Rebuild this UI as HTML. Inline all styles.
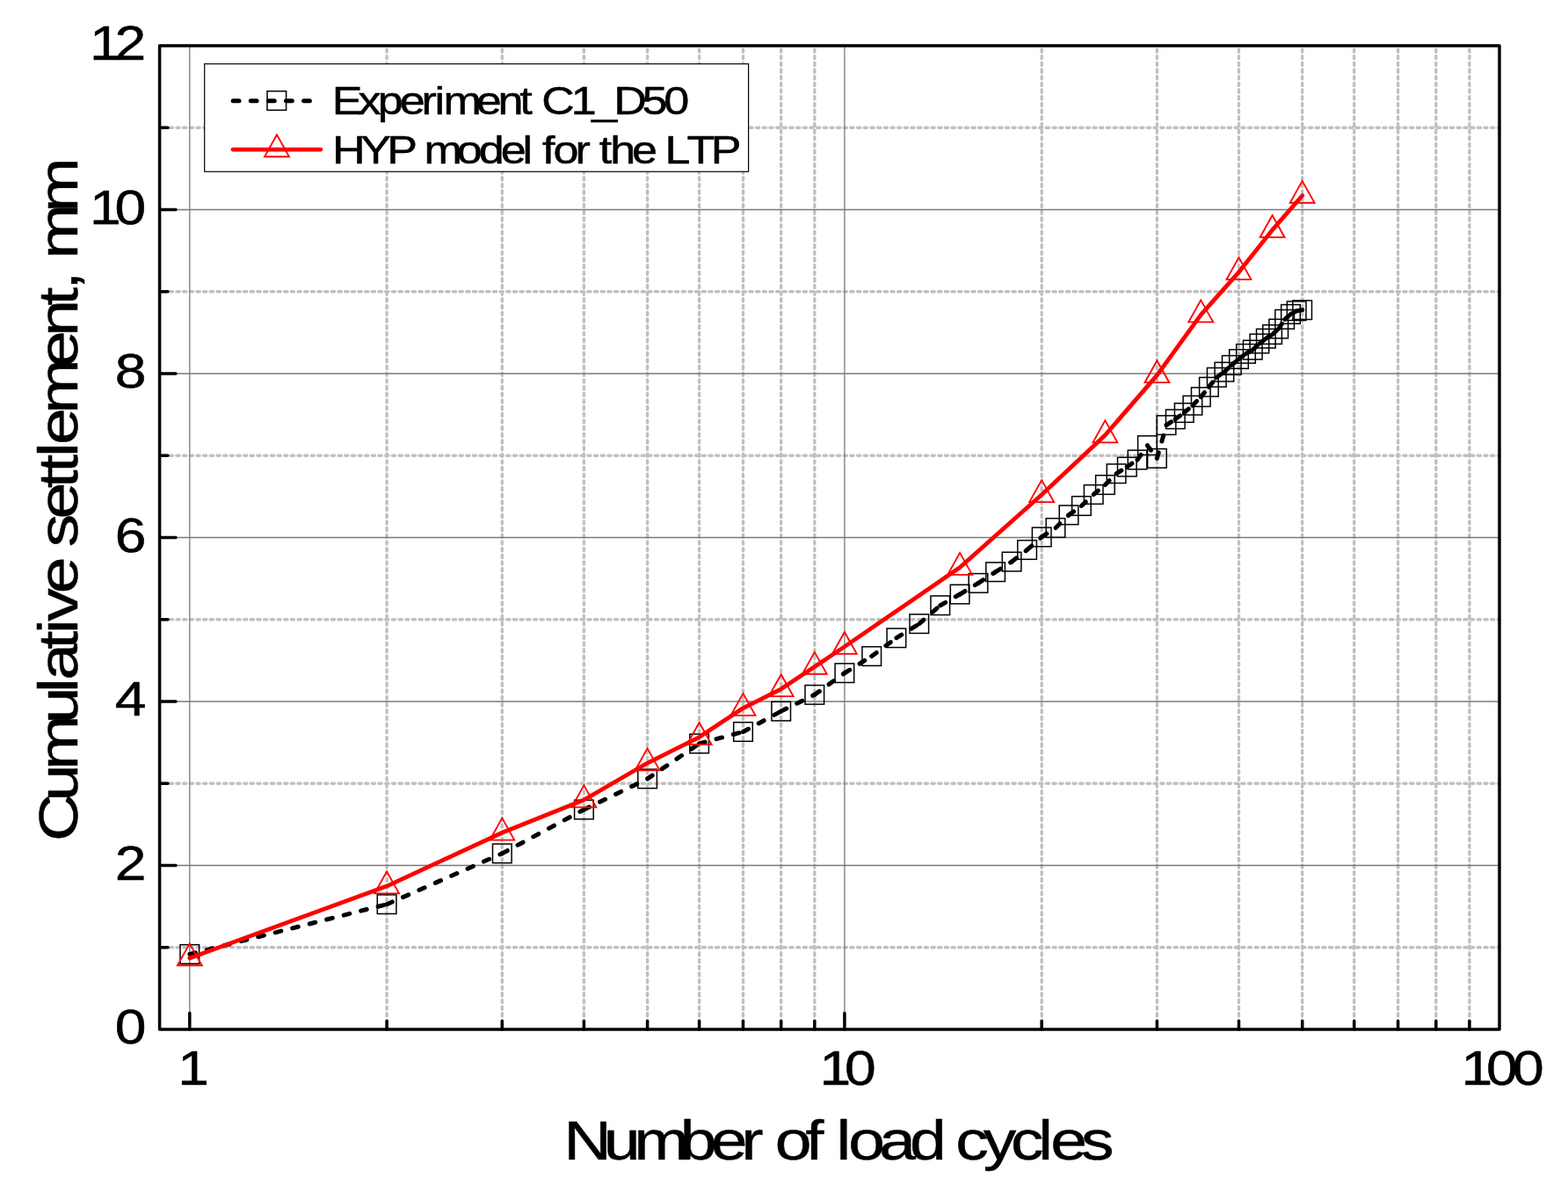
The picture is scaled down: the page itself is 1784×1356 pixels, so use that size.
<!DOCTYPE html>
<html lang="en"><head><meta charset="utf-8"><title>Cumulative settlement vs number of load cycles</title>
<style>html,body{margin:0;padding:0;background:#fff;overflow:hidden}svg{display:block}text{font-family:"Liberation Sans",sans-serif;white-space:pre;stroke:#000;stroke-width:0.5px;stroke-linejoin:round}</style></head><body>
<svg width="1784" height="1356" viewBox="0 0 1784 1356" role="img" aria-label="Cumulative settlement versus number of load cycles">
<rect x="0" y="0" width="1784" height="1356" fill="#fff"/>
<g fill="none" stroke="#c0c0c0" stroke-width="3.4" stroke-linecap="round" stroke-dasharray="3.2 4.47">
<path d="M440.1 56 V1171"/>
<path d="M571.3 56 V1171"/>
<path d="M664.39 56 V1171"/>
<path d="M736.6 56 V1171"/>
<path d="M795.6 56 V1171"/>
<path d="M845.48 56 V1171"/>
<path d="M888.69 56 V1171"/>
<path d="M926.81 56 V1171"/>
<path d="M1185.2 56 V1171"/>
<path d="M1316.4 56 V1171"/>
<path d="M1409.49 56 V1171"/>
<path d="M1481.7 56 V1171"/>
<path d="M1540.7 56 V1171"/>
<path d="M1590.58 56 V1171"/>
<path d="M1633.79 56 V1171"/>
<path d="M1671.91 56 V1171"/>
<path d="M185.6 1077.75 H1706"/>
<path d="M185.6 891.25 H1706"/>
<path d="M185.6 704.75 H1706"/>
<path d="M185.6 518.25 H1706"/>
<path d="M185.6 331.75 H1706"/>
<path d="M185.6 145.25 H1706"/>
</g>
<g fill="none" stroke="#7a7a7a" stroke-width="1.3">
<path d="M215.8 52 V1171"/>
<path d="M960.9 52 V1171"/>
<path d="M181.6 984.5 H1706"/>
<path d="M181.6 798 H1706"/>
<path d="M181.6 611.5 H1706"/>
<path d="M181.6 425 H1706"/>
<path d="M181.6 238.5 H1706"/>
</g>
<g fill="none" stroke="#000" stroke-width="3.5" stroke-linecap="round" stroke-linejoin="round">
<rect x="181.6" y="52" width="1524.4" height="1119"/>
<path d="M215.8 1171 V1152.6 M960.9 1171 V1152.6 M440.1 1171 V1161.6 M571.3 1171 V1161.6 M664.39 1171 V1161.6 M736.6 1171 V1161.6 M795.6 1171 V1161.6 M845.48 1171 V1161.6 M888.69 1171 V1161.6 M926.81 1171 V1161.6 M1185.2 1171 V1161.6 M1316.4 1171 V1161.6 M1409.49 1171 V1161.6 M1481.7 1171 V1161.6 M1540.7 1171 V1161.6 M1590.58 1171 V1161.6 M1633.79 1171 V1161.6 M1671.91 1171 V1161.6 M181.6 984.5 H200 M181.6 798 H200 M181.6 611.5 H200 M181.6 425 H200 M181.6 238.5 H200 M181.6 1077.75 H191 M181.6 891.25 H191 M181.6 704.75 H191 M181.6 518.25 H191 M181.6 331.75 H191 M181.6 145.25 H191"/>
</g>
<g fill="none" stroke="#000" stroke-width="5" stroke-linecap="round" stroke-dasharray="6.8 13.3">
<path d="M215.8 1085.49 L440.1 1028.7"/>
<path d="M440.1 1028.7 L571.3 970.89"/>
<path d="M571.3 970.89 L664.39 921"/>
<path d="M664.39 921 L736.6 885.93"/>
<path d="M736.6 885.93 L795.6 845.93"/>
<path d="M795.6 845.93 L845.48 832.5"/>
<path d="M845.48 832.5 L888.69 809.1"/>
<path d="M888.69 809.1 L926.81 790.35"/>
<path d="M926.81 790.35 L960.9 765.64"/>
<path d="M960.9 765.64 L991.74 746.53"/>
<path d="M991.74 746.53 L1019.9 725.73"/>
<path d="M1019.9 725.73 L1045.8 709.6"/>
<path d="M1045.8 709.6 L1069.78 688.71"/>
<path d="M1069.78 688.71 L1092.11 676.03"/>
<path d="M1092.11 676.03 L1112.99 663.35"/>
<path d="M1112.99 663.35 L1132.61 650.66"/>
<path d="M1132.61 650.66 L1151.1 639.01"/>
<path d="M1151.1 639.01 L1168.6 625.49"/>
<path d="M1168.6 625.49 L1185.2 610.94"/>
<path d="M1185.2 610.94 L1200.99 600.5"/>
<path d="M1200.99 600.5 L1216.04 585.86"/>
<path d="M1216.04 585.86 L1230.42 575.51"/>
<path d="M1230.42 575.51 L1244.2 562.54"/>
<path d="M1244.2 562.54 L1257.41 551.54"/>
<path d="M1257.41 551.54 L1270.1 538.76"/>
<path d="M1270.1 538.76 L1282.31 531.12"/>
<path d="M1282.31 531.12 L1294.08 523.01"/>
<path d="M1294.08 523.01 L1305.43 506.69"/>
<path d="M1305.43 506.69 L1316.4 521.42"/>
<path d="M1316.4 521.42 L1327.01 483.65"/>
<path d="M1327.01 483.65 L1337.29 476.85"/>
<path d="M1337.29 476.85 L1347.24 469.57"/>
<path d="M1347.24 469.57 L1356.9 461.18"/>
<path d="M1356.9 461.18 L1366.29 451.67"/>
<path d="M1366.29 451.67 L1375.4 440.2"/>
<path d="M1375.4 440.2 L1384.27 429.29"/>
<path d="M1384.27 429.29 L1392.9 423.13"/>
<path d="M1392.9 423.13 L1401.3 415.4"/>
<path d="M1401.3 415.4 L1409.49 408.49"/>
<path d="M1409.49 408.49 L1417.49 402.34"/>
<path d="M1417.49 402.34 L1425.28 398.05"/>
<path d="M1425.28 398.05 L1432.9 390.87"/>
<path d="M1432.9 390.87 L1440.34 385.09"/>
<path d="M1440.34 385.09 L1447.61 380.52"/>
<path d="M1447.61 380.52 L1454.72 373.99"/>
<path d="M1454.72 373.99 L1461.68 363.27"/>
<path d="M1461.68 363.27 L1468.49 357.39"/>
<path d="M1468.49 357.39 L1475.17 353.66"/>
<path d="M1475.17 353.66 L1481.7 352.64"/>
</g>
<g fill="none" stroke="#000" stroke-width="1.5">
<rect x="205" y="1074.69" width="21.6" height="21.6"/>
<rect x="429.3" y="1017.9" width="21.6" height="21.6"/>
<rect x="560.5" y="960.09" width="21.6" height="21.6"/>
<rect x="653.59" y="910.2" width="21.6" height="21.6"/>
<rect x="725.8" y="875.13" width="21.6" height="21.6"/>
<rect x="784.8" y="835.13" width="21.6" height="21.6"/>
<rect x="834.68" y="821.7" width="21.6" height="21.6"/>
<rect x="877.89" y="798.3" width="21.6" height="21.6"/>
<rect x="916.01" y="779.55" width="21.6" height="21.6"/>
<rect x="950.1" y="754.84" width="21.6" height="21.6"/>
<rect x="980.94" y="735.73" width="21.6" height="21.6"/>
<rect x="1009.1" y="714.93" width="21.6" height="21.6"/>
<rect x="1035" y="698.8" width="21.6" height="21.6"/>
<rect x="1058.98" y="677.91" width="21.6" height="21.6"/>
<rect x="1081.31" y="665.23" width="21.6" height="21.6"/>
<rect x="1102.19" y="652.55" width="21.6" height="21.6"/>
<rect x="1121.81" y="639.87" width="21.6" height="21.6"/>
<rect x="1140.3" y="628.21" width="21.6" height="21.6"/>
<rect x="1157.8" y="614.69" width="21.6" height="21.6"/>
<rect x="1174.4" y="600.14" width="21.6" height="21.6"/>
<rect x="1190.19" y="589.7" width="21.6" height="21.6"/>
<rect x="1205.24" y="575.06" width="21.6" height="21.6"/>
<rect x="1219.62" y="564.71" width="21.6" height="21.6"/>
<rect x="1233.4" y="551.74" width="21.6" height="21.6"/>
<rect x="1246.61" y="540.74" width="21.6" height="21.6"/>
<rect x="1259.3" y="527.97" width="21.6" height="21.6"/>
<rect x="1271.51" y="520.32" width="21.6" height="21.6"/>
<rect x="1283.28" y="512.21" width="21.6" height="21.6"/>
<rect x="1294.63" y="495.89" width="21.6" height="21.6"/>
<rect x="1305.6" y="510.62" width="21.6" height="21.6"/>
<rect x="1316.21" y="472.85" width="21.6" height="21.6"/>
<rect x="1326.49" y="466.05" width="21.6" height="21.6"/>
<rect x="1336.44" y="458.77" width="21.6" height="21.6"/>
<rect x="1346.1" y="450.38" width="21.6" height="21.6"/>
<rect x="1355.49" y="440.87" width="21.6" height="21.6"/>
<rect x="1364.6" y="429.4" width="21.6" height="21.6"/>
<rect x="1373.47" y="418.49" width="21.6" height="21.6"/>
<rect x="1382.1" y="412.33" width="21.6" height="21.6"/>
<rect x="1390.5" y="404.6" width="21.6" height="21.6"/>
<rect x="1398.69" y="397.69" width="21.6" height="21.6"/>
<rect x="1406.69" y="391.54" width="21.6" height="21.6"/>
<rect x="1414.48" y="387.25" width="21.6" height="21.6"/>
<rect x="1422.1" y="380.07" width="21.6" height="21.6"/>
<rect x="1429.54" y="374.29" width="21.6" height="21.6"/>
<rect x="1436.81" y="369.72" width="21.6" height="21.6"/>
<rect x="1443.92" y="363.19" width="21.6" height="21.6"/>
<rect x="1450.88" y="352.47" width="21.6" height="21.6"/>
<rect x="1457.69" y="346.59" width="21.6" height="21.6"/>
<rect x="1464.37" y="342.86" width="21.6" height="21.6"/>
<rect x="1470.9" y="341.84" width="21.6" height="21.6"/>
</g>
<path fill="none" stroke="#ff0000" stroke-width="4.8" stroke-linecap="round" stroke-linejoin="round" d="M215.8 1089.97 L440.1 1008.09 L571.3 947.29 L664.39 909.99 L736.6 868.03 L795.6 838.56 L845.48 805.55 L888.69 783.83 L926.81 758.46 L960.9 735.62 L1092.11 645.54 L1185.2 562.73 L1257.41 495.03 L1316.4 426.87 L1366.29 358.05 L1409.49 309.56 L1447.61 261.63 L1481.7 222.46"/>
<path fill="none" stroke="#ff0000" stroke-width="1.85" stroke-linejoin="miter" d="M215.8 1073.33 L229.75 1098.28 L201.85 1098.28 Z M440.1 991.46 L454.05 1016.41 L426.15 1016.41 Z M571.3 930.66 L585.25 955.61 L557.35 955.61 Z M664.39 893.36 L678.34 918.31 L650.44 918.31 Z M736.6 851.4 L750.55 876.35 L722.65 876.35 Z M795.6 821.93 L809.55 846.88 L781.65 846.88 Z M845.48 788.92 L859.43 813.87 L831.53 813.87 Z M888.69 767.19 L902.64 792.14 L874.74 792.14 Z M926.81 741.83 L940.76 766.78 L912.86 766.78 Z M960.9 718.98 L974.85 743.93 L946.95 743.93 Z M1092.11 628.9 L1106.06 653.85 L1078.16 653.85 Z M1185.2 546.1 L1199.15 571.05 L1171.25 571.05 Z M1257.41 478.4 L1271.36 503.35 L1243.46 503.35 Z M1316.4 410.23 L1330.35 435.18 L1302.45 435.18 Z M1366.29 341.41 L1380.24 366.36 L1352.34 366.36 Z M1409.49 292.92 L1423.44 317.87 L1395.54 317.87 Z M1447.61 244.99 L1461.56 269.94 L1433.66 269.94 Z M1481.7 205.83 L1495.65 230.78 L1467.75 230.78 Z"/>
<rect x="232.7" y="72.7" width="618.9" height="122.55" fill="#fff" stroke="#000" stroke-width="1.2"/>
<path fill="none" stroke="#000" stroke-width="5" stroke-linecap="round" stroke-dasharray="6.8 13.3" d="M265.2 114.7 H353"/>
<rect x="304" y="103.7" width="21.6" height="21.6" fill="none" stroke="#000" stroke-width="1.5"/>
<path fill="none" stroke="#ff0000" stroke-width="4.7" stroke-linecap="round" d="M264.9 170.05 H364.9"/>
<path fill="none" stroke="#ff0000" stroke-width="1.85" d="M315 153.27 L328.95 178.22 L301.05 178.22 Z"/>
<text transform="translate(377.7 130) scale(1.1501 1)" font-size="45.3" fill="#000" x="0 25.92 45.36 66.97 88.59 101.53 110.16 142.54 164.16 185.77 196.57 207.37 236.49 257.05 278.67 306.73 328.35" y="0">Experiment C1_D50</text>
<text transform="translate(378 185.9) scale(1.1501 1)" font-size="45.3" fill="#000" x="0 28.13 54.11 80.09 90.92 123.36 145.03 166.69 188.35 197.01 207.83 218.65 240.32 253.29 264.11 274.93 296.6 318.26 329.08 350.75 374.54" y="0">HYP model for the LTP</text>
<text transform="translate(130.63 1187.3) scale(1.1505 1)" font-size="55.8" fill="#000" x="0" y="0">0</text>
<text transform="translate(130.63 1000.8) scale(1.1505 1)" font-size="55.8" fill="#000" x="0" y="0">2</text>
<text transform="translate(130.63 814.3) scale(1.1505 1)" font-size="55.8" fill="#000" x="0" y="0">4</text>
<text transform="translate(130.63 627.8) scale(1.1505 1)" font-size="55.8" fill="#000" x="0" y="0">6</text>
<text transform="translate(130.63 441.3) scale(1.1505 1)" font-size="55.8" fill="#000" x="0" y="0">8</text>
<text transform="translate(100.6 254.8) scale(1.1505 1)" font-size="55.8" fill="#000" x="1.3 26.1" y="0">10</text>
<text transform="translate(100.6 68.3) scale(1.1505 1)" font-size="55.8" fill="#000" x="1.3 26.1" y="0">12</text>
<text transform="translate(200.88 1233.9) scale(1.1505 1)" font-size="55.8" fill="#000" x="1.3" y="0">1</text>
<text transform="translate(930.97 1233.9) scale(1.1505 1)" font-size="55.8" fill="#000" x="1.3 26.1" y="0">10</text>
<text transform="translate(1661.05 1233.9) scale(1.1505 1)" font-size="55.8" fill="#000" x="1.3 26.1 52.21" y="0">100</text>
<text transform="translate(641.5 1319.1) scale(1.1981 1)" font-size="62.6" fill="#000" x="0 37.77 66.86 110.42 139.51 168.6 186.01 200.54 229.63 244.16 258.69 270.31 299.4 328.49 357.57 372.1 398.25 424.4 450.55 462.17 491.26" y="0">Number of load cycles</text>
<text transform="translate(87.8 957) rotate(-90) scale(1.1981 1)" font-size="62.6" fill="#000" x="0 38.22 67.65 111.73 141.16 152.91 182.34 197.05 208.8 235.26 264.69 279.39 305.85 335.28 349.99 364.69 376.45 405.88 449.96 479.39 508.82 523.52 538.22 552.92 597.01" y="0">Cumulative settlement, mm</text>
</svg></body></html>
